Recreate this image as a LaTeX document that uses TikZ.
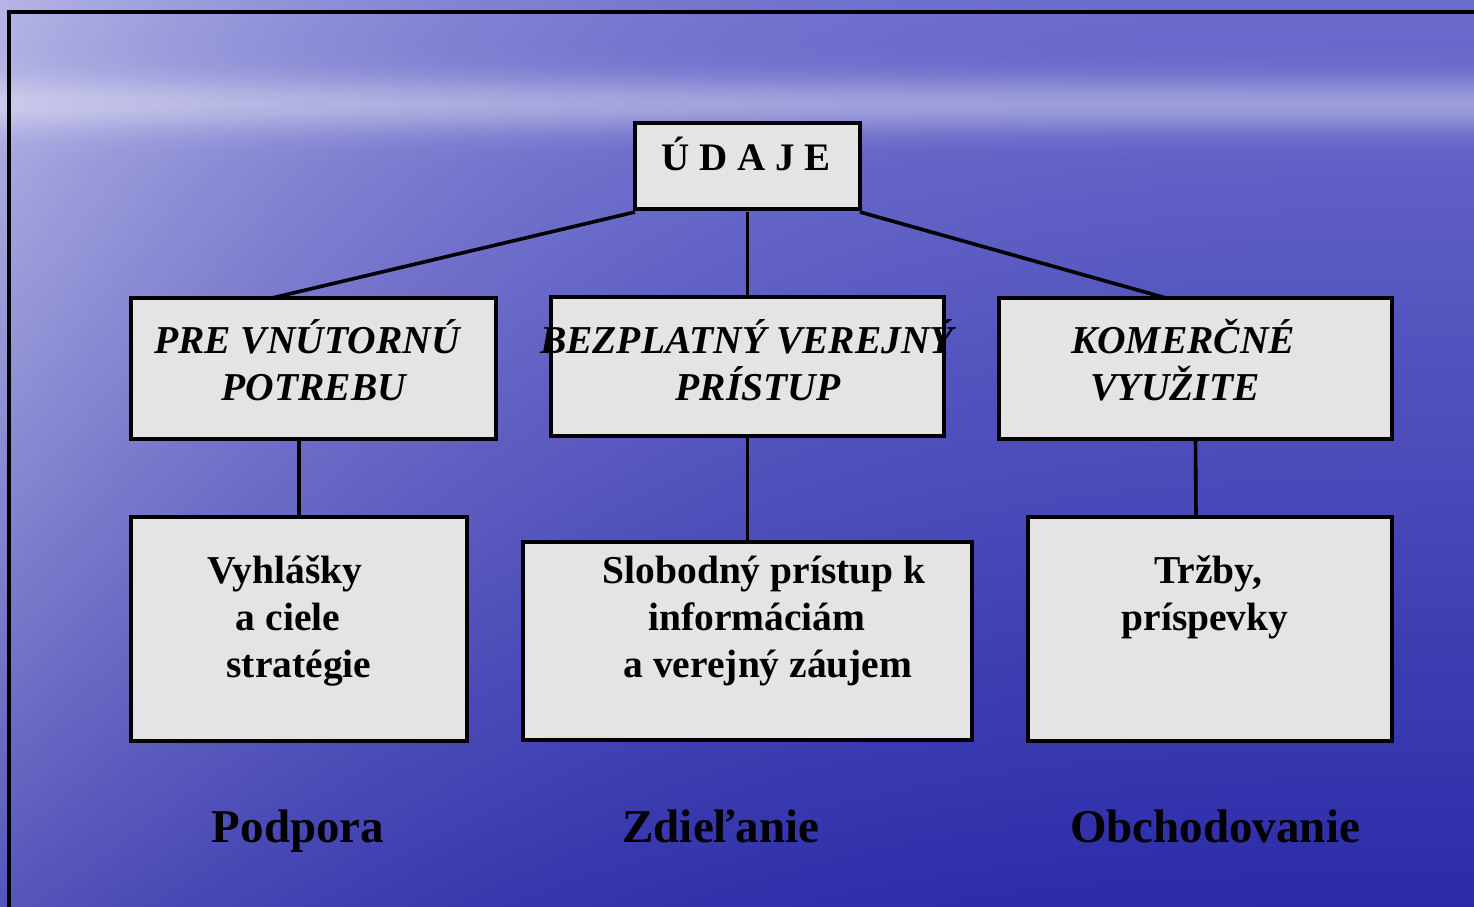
\documentclass[tikz,border=0pt]{standalone}
\usepackage{fontspec}
\setmainfont{Liberation Serif}
\usetikzlibrary{positioning}
\pgfdeclarefunctionalshading{sea}{\pgfpointorigin}{\pgfpoint{100bp}{100bp}}{}{
25 sub 50 div exch 25 sub 50 div exch
1 exch sub
1 index 1 exch sub dup dup mul mul
1 index 0.6 mul 1 exch sub mul 0.5 mul
1 index 0.115 sub 0.03 div dup mul neg 2.71828 exch exp
2 index 0.25 mul 0.42 exch sub
1 index 0.22 mul add
dup 1 exch sub 3 index mul add
dup
4 index 0.14 mul 0.80 exch sub
3 index 0.07 mul add
dup 1 exch sub 5 index mul add
7 3 roll pop pop pop pop
}
\definecolor{boxfill}{RGB}{228,228,228}
\tikzset{
  box/.style={draw=black, fill=boxfill, line width=3.6pt, rectangle, inner sep=0pt, outer sep=0pt},
  conn/.style={draw=black, line width=3.6pt},
  uptext/.style={anchor=base, inner sep=0pt, font=\bfseries\itshape\fontsize{39.5}{46}\selectfont},
  lowtext/.style={anchor=base, inner sep=0pt, font=\bfseries\fontsize{39.5}{46}\selectfont},
  toptext/.style={anchor=base, inner sep=0pt, font=\bfseries\fontsize{39}{46}\selectfont},
  labtext/.style={anchor=base, inner sep=0pt, font=\bfseries\fontsize{47}{54}\selectfont}
}
\begin{document}
\begin{tikzpicture}[x=1pt,y=-1pt]
\useasboundingbox (0,0) rectangle (1474,906);
\shade[shading=sea] (0,0) rectangle (1474,906);
% frame
\coordinate (fbl) at (9,906);
\coordinate (ftl) at (9,12);
\coordinate (ftr) at (1474,12);
\draw[line width=3.6pt, line cap=rect] (fbl) -- (ftl) -- (ftr);
% boxes
\node[box, minimum width=225pt, minimum height=86pt] (udaje) at (747.5,166) {};
\node[box, minimum width=365pt, minimum height=141pt] (pre) at (313.5,368.5) {};
\node[box, minimum width=393pt, minimum height=139pt] (bez) at (747.5,366.5) {};
\node[box, minimum width=393pt, minimum height=141pt] (kom) at (1195.5,368.5) {};
\node[box, minimum width=336pt, minimum height=224pt] (vyh) at (299,629) {};
\node[box, minimum width=449pt, minimum height=198pt] (slo) at (747.5,641) {};
\node[box, minimum width=364pt, minimum height=224pt] (trz) at (1210,629) {};
% connectors
\draw[conn] ([yshift=-3pt]udaje.south west) -- ([xshift=141pt]pre.north west);
\draw[conn] ([yshift=-3pt]udaje.south) -- (bez.north);
\draw[conn] ([yshift=-3pt]udaje.south east) -- ([xshift=167pt]kom.north west);
\draw[conn] ([xshift=-14.5pt]pre.south) -- (vyh.north);
\draw[conn] (bez.south) -- (slo.north);
\draw[conn] (kom.south) -- ([xshift=-14pt]trz.north);
% texts
\node[toptext] (tud) at (746,170) {Ú D A J E};
\node[uptext] (tpre1) at (307,353) {PRE VNÚTORNÚ};
\node[uptext] (tpre2) at (314,400) {POTREBU};
\node[uptext] (tbez1) at (747,353) {BEZPLATNÝ VEREJNÝ};
\node[uptext] (tbez2) at (758,400) {PRÍSTUP};
\node[uptext] (tkom1) at (1183,353) {KOMERČNÉ};
\node[uptext] (tkom2) at (1175,400) {VYUŽITE};
\node[lowtext] (tvyh1) at (285,583) {Vyhlášky};
\node[lowtext] (tvyh2) at (288,630) {a ciele};
\node[lowtext] (tvyh3) at (299,677) {stratégie};
\node[lowtext] (tslo1) at (764,583) {Slobodný prístup k};
\node[lowtext] (tslo2) at (757,630) {informáciám};
\node[lowtext] (tslo3) at (768,677) {a verejný záujem};
\node[lowtext] (ttrz1) at (1208,583) {Tržby,};
\node[lowtext] (ttrz2) at (1205,630) {príspevky};
\node[labtext] (lpod) at (298,842) {Podpora};
\node[labtext] (lzdi) at (721,842) {Zdieľanie};
\node[labtext] (lobc) at (1215,842) {Obchodovanie};
\end{tikzpicture}
\end{document}
